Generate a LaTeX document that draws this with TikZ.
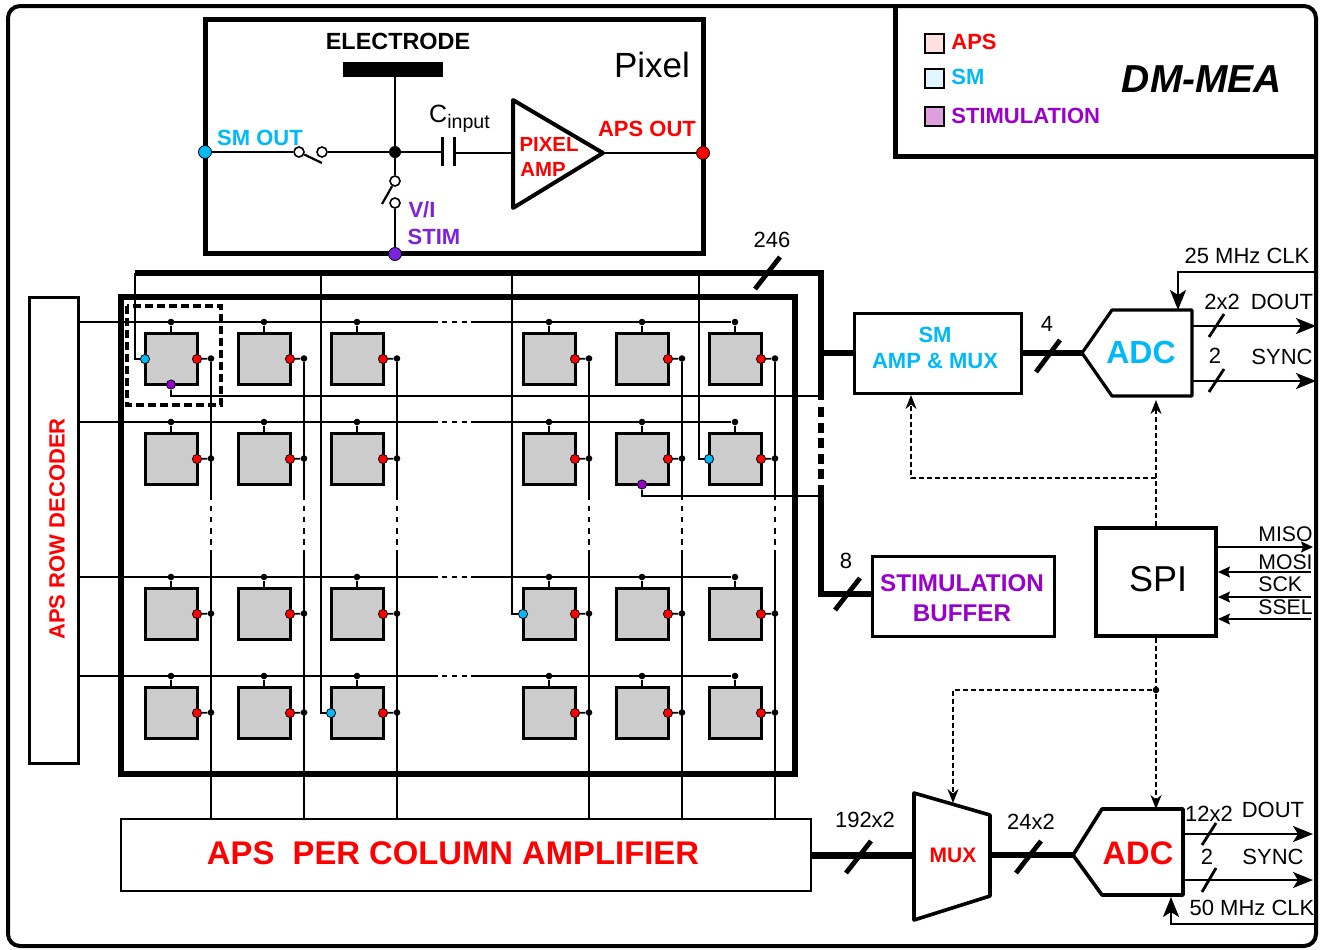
\documentclass[tikz,border=0pt]{standalone}
\usepackage{fontspec}
\setmainfont{Liberation Sans}
\usepackage{xcolor}
\usetikzlibrary{arrows.meta}
\usetikzlibrary{math}
\definecolor{smblue}{RGB}{0,185,250}
\definecolor{apsred}{RGB}{255,0,0}
\definecolor{stimpurple}{RGB}{153,0,204}
\definecolor{vipurple}{RGB}{125,35,220}
\definecolor{stimfill}{RGB}{221,160,221}
\tikzset{
block/.style={draw,line width=1.5pt,fill=white,inner sep=0pt,align=center},
cell/.style={draw,line width=1.5pt,fill=black!20,inner sep=0pt,outer sep=0pt,minimum width=26pt,minimum height=25.5pt},
wiredot/.style={circle,fill=black,inner sep=0pt,minimum size=3.3pt},
apsdot/.style={circle,draw,line width=0.4pt,fill=apsred,inner sep=0pt,minimum size=4.6pt},
smdot/.style={circle,draw,line width=0.4pt,fill=smblue,inner sep=0pt,minimum size=4.6pt},
stimdot/.style={circle,draw,line width=0.4pt,fill=stimpurple,inner sep=0pt,minimum size=4.6pt},
opendot/.style={circle,draw,line width=0.8pt,fill=white,inner sep=0pt,minimum size=5pt},
legendbox/.style={draw,line width=1pt,inner sep=0pt,minimum size=9.5pt},
wire/.style={line width=0.9pt},
bus/.style={line width=2.6pt},
slash/.style={line width=2.4pt},
sig/.style={line width=1.1pt,-{Stealth[length=10pt,width=8pt,inset=2.5pt]}},
sigthin/.style={line width=0.7pt,-{Stealth[length=6pt,width=5.5pt,inset=1pt]}},
ctrl/.style={line width=0.8pt,dash pattern=on 2.5pt off 1.5pt,-{Stealth[length=7pt,width=5.5pt]}},
lab/.style={font=\fontsize{11}{13}\selectfont,inner sep=0pt},
blab/.style={font=\fontsize{11}{13}\selectfont\bfseries,inner sep=0pt},
}
\begin{document}
\begin{tikzpicture}[x=0.5pt,y=-0.5pt]
\tikzmath{
\w=54;
\h=52;
\tapup=11;
\side=26;
\outx=13;
}
\useasboundingbox (0,0) rectangle (1328,949);

\draw[line width=2pt,rounded corners=6pt] (8,6) rectangle (1316,946);
\draw[line width=2.5pt] (895,6) |- (1316,156);

% legend
\node[legendbox,fill=red!12] (lega) at (934,43) {};
\node[legendbox,fill=cyan!12] (legb) at (934,78) {};
\node[legendbox,fill=stimfill] (legc) at (934,116) {};
\node[blab,text=apsred,anchor=west] (legatxt) at (951,42) {APS};
\node[blab,text=smblue,anchor=west] (legbtxt) at (951,77) {SM};
\node[blab,text=stimpurple,anchor=west] (legctxt) at (951,116) {STIMULATION};
\node[font=\fontsize{19.5}{19.5}\selectfont\bfseries\itshape,inner sep=0pt] (title) at (1202,79) {DM-MEA};

% pixel inset
\node[block,line width=2.5pt,minimum width=249pt,minimum height=117pt] (pixelbox) at (454,136) {};
\node[font=\fontsize{11.7}{11.7}\selectfont\bfseries,inner sep=0pt] (elabel) at (398,41) {ELECTRODE};
\node[fill=black,inner sep=0pt,minimum width=50pt,minimum height=7.5pt] (electrode) at (393,69.5) {};
\node[font=\fontsize{17.5}{17.5}\selectfont,inner sep=0pt] (pixlabel) at (652,65) {Pixel};
\node[smdot,minimum size=6.5pt] (smout) at (205,152) {};
\node[apsdot,minimum size=6.5pt] (apsout) at (703,153) {};
\node[stimdot,fill=vipurple,minimum size=6.5pt] (stimin) at (395,254) {};
\node[wiredot,minimum size=6pt] (jct) at (395,152) {};
\node[opendot] (swa) at (299,152) {};
\node[opendot] (swb) at (322,152) {};
\node[opendot] (swc) at (395,181) {};
\node[opendot] (swd) at (395,203) {};
\coordinate (bladea) at (322,163);
\coordinate (bladeb) at (382,204);
\coordinate (capl) at (442,152);
\coordinate (capr) at (454,153);
\coordinate (ampin) at (513,153);
\coordinate (ampout) at (603,153);
\draw[line width=1.1pt] (electrode.south -| jct) -- (jct);
\draw[line width=1.1pt] (smout) -- (swa);
\draw[line width=1.1pt] (swa) -- (bladea);
\draw[line width=1.1pt] (swb) -- (jct) -- (capl);
\draw[line width=1.1pt] (jct) -- (swc);
\draw[line width=1.1pt] (swc) -- (bladeb);
\draw[line width=1.1pt] (swd) -- (stimin);
\draw[line width=1.1pt] (capr) -- (ampin);
\draw[line width=1.1pt] (ampout) -- (apsout);
\draw[line width=1.5pt] (capl |- 0,137) -- (capl |- 0,166);
\draw[line width=1.5pt] (capr |- 0,137) -- (capr |- 0,166);
\draw[line width=2pt,line join=round] (513,100) -- (603,153) -- (513,208) -- cycle;
\node[blab,text=smblue] (smoutlab) at (260,138) {SM OUT};
\node[blab,text=apsred] (apsoutlab) at (647,129) {APS OUT};
\node[blab,text=apsred,font=\fontsize{10.2}{12.5}\selectfont\bfseries] (amplab) at (549,144) {PIXEL};
\node[blab,text=apsred,font=\fontsize{10.2}{12.5}\selectfont\bfseries] (amplabb) at (543,169) {AMP};
\node[inner sep=0pt,font=\fontsize{12.5}{12.5}\selectfont] (caplab) at (459.5,119) {C\raisebox{-0.45ex}{\fontsize{9.8}{9.8}\selectfont input}};
\node[blab,text=vipurple] (vilab) at (422,210) {V/I};
\node[blab,text=vipurple] (stimlab) at (434,237) {STIM};

% array
\node[block,line width=3pt,fill=none,minimum width=337pt,minimum height=238.5pt] (array) at (458,535.5) {};
\node[block,minimum width=24.5pt,minimum height=233pt] (rowdec) at (54,530.5) {};
\node[blab,text=apsred,rotate=90] (rowdeclab) at (57,529) {APS ROW DECODER};
\node[block,line width=1.3pt,minimum width=345pt,minimum height=36pt] (colamp) at (466,855) {};
\node[text=apsred,font=\fontsize{16.4}{16.4}\selectfont\bfseries,inner sep=0pt] (colamplab) at (453,853) {APS\ \ PER COLUMN AMPLIFIER};

\coordinate (bustl) at (135,273);
\coordinate (bustr) at (821,273);
\coordinate (busa) at (821,400);
\coordinate (busb) at (821,407);
\coordinate (busc) at (821,480);
\coordinate (busd) at (821,485);
\coordinate (stimbufin) at (872,594);
\coordinate (brkup) at (0,500);
\coordinate (brkdn) at (0,553);

\foreach \ry [count=\r] in {333,433,588,687} {
\foreach \cx [count=\c] in {144,237,330,522,615,708} {
\node[cell] (c\r\c) at (\cx+\w/2,\ry+\h/2) {};
\node[wiredot] (tap\r\c) at (\cx+\w/2,\ry-\tapup) {};
\node[wiredot] (out\r\c) at (\cx+\w+\outx,\ry+\side-0.5) {};
\draw[wire] (tap\r\c) -- (c\r\c.north);
\draw[wire] (c\r\c.east) -- (out\r\c);
\node[apsdot] (aps\r\c) at (c\r\c.east) {};
}
\coordinate (brkl\r) at (437.5,\ry-\tapup);
\coordinate (brkr\r) at (471,\ry-\tapup);
\draw[wire] (rowdec.east |- tap\r1) -- (brkl\r);
\draw[wire,dash pattern=on 2.5pt off 2.5pt,dash phase=2.75pt] (brkl\r) -- (brkr\r);
\draw[wire] (brkr\r) -- (tap\r6);
}

\foreach \c in {1,...,6} {
\draw[line width=1.1pt] (out1\c) -- (out1\c |- brkup);
\draw[line width=1.1pt,dash pattern=on 2.8pt off 2.8pt,dash phase=2.8pt] (out1\c |- brkup) -- (out1\c |- brkdn);
\draw[line width=1.1pt] (out1\c |- brkdn) -- (out1\c |- colamp.north);
}

\draw[bus] (bustl) -- (bustr) -- (busa);
\draw[bus,dash pattern=on 5pt off 2.8pt] (busb) -- (busc);
\draw[bus] (busd) |- (stimbufin);

\foreach \tapx/\rc in {135/11,321/43,512/34,699/26} {
\node[smdot] (sm\rc) at (c\rc.west) {};
\coordinate (smtap\rc) at (\tapx,273);
\draw[wire] (smtap\rc) |- (sm\rc);
}
\foreach \rc/\biny in {11/396,25/496} {
\node[stimdot] (st\rc) at (c\rc.south) {};
\coordinate (stimbus\rc) at (821,\biny);
\draw[wire] (st\rc) |- (stimbus\rc);
}
\draw[line width=1.6pt,dash pattern=on 4pt off 2pt] (127,306) rectangle (221,405);

% right hand blocks
\node[block,minimum width=83.5pt,minimum height=40pt] (smamp) at (938,353) {};
\node[blab,text=smblue] (smamplab) at (935,335) {SM};
\node[blab,text=smblue] (smamplabb) at (935,361) {AMP \& MUX};
\coordinate (adcsmtip) at (1082,353);
\draw[line width=1.6pt,line join=round] (adcsmtip) -- ++(30,-43) -- ++(80,0) -- ++(0,86) -- ++(-80,0) -- cycle;
\node[text=smblue,font=\fontsize{16}{16}\selectfont\bfseries,inner sep=0pt] (adcsmlab) at (1141,352) {ADC};
\draw[bus] (smamp.west) -- (smamp.west -| bustr);
\draw[bus] (smamp.east) -- (adcsmtip);

\node[block,minimum width=91pt,minimum height=40pt] (stimbuf) at (963.5,596) {};
\node[text=stimpurple,font=\fontsize{12.1}{12.1}\selectfont\bfseries,inner sep=0pt] (stimbuflab) at (962,583) {STIMULATION};
\node[text=stimpurple,font=\fontsize{12.1}{12.1}\selectfont\bfseries,inner sep=0pt] (stimbuflabb) at (962,613) {BUFFER};

\node[block,line width=2pt,minimum width=60pt,minimum height=54pt] (spi) at (1156,581.5) {};
\node[font=\fontsize{18}{18}\selectfont,inner sep=0pt] (spilab) at (1158,579) {SPI};

\coordinate (muxtl) at (914,793);
\coordinate (muxbl) at (914,920);
\coordinate (muxtr) at (990,815);
\coordinate (muxbr) at (990,896);
\draw[line width=1.8pt,line join=round] (muxtl) -- (muxtr) -- (muxbr) -- (muxbl) -- cycle;
\node[blab,text=apsred,font=\fontsize{10.5}{12}\selectfont\bfseries] (muxlab) at (953,855) {MUX};
\coordinate (adcapstip) at (1073,855);
\draw[line width=1.8pt,line join=round] (adcapstip) -- ++(29,-46) -- ++(81,0) -- ++(0,86) -- ++(-81,0) -- cycle;
\node[text=apsred,font=\fontsize{16.3}{16.3}\selectfont\bfseries,inner sep=0pt] (adcapslab) at (1138,853) {ADC};
\draw[line width=3.5pt] (colamp.east) -- (colamp.east -| muxtl);
\draw[bus] (colamp.east -| muxtr) -- (adcapstip);

% bus widths
\draw[slash] (755,289) -- (780,257);
\node[lab] (n246) at (772,240) {246};
\draw[slash] (1036,372) -- (1060,340);
\node[lab] (n4) at (1047,324) {4};
\draw[slash] (835,610) -- (860,578);
\node[lab] (n8) at (846,561) {8};
\draw[slash] (846,873) -- (871,841);
\node[lab] (n192) at (865,820) {192x2};
\draw[slash] (1016,873) -- (1041,841);
\node[lab] (n24) at (1031,822) {24x2};

% signals top adc
\coordinate (clktop) at (1316,272);
\coordinate (clktopin) at (1178,310);
\coordinate (doutaa) at (1192,326);
\coordinate (doutab) at (1316,326);
\coordinate (syncaa) at (1192,381);
\coordinate (syncab) at (1316,381);
\draw[sig] (clktop) -| (clktopin);
\draw[sig] (doutaa) -- (doutab);
\draw[sig] (syncaa) -- (syncab);
\draw[line width=1.4pt] (1209,337) -- (1224,314);
\draw[line width=1.4pt] (1209,392) -- (1224,369);
\node[lab] (clka) at (1247,256) {25 MHz CLK};
\node[lab] (w22) at (1222,302) {2x2};
\node[lab] (douta) at (1282,302) {DOUT};
\node[lab] (w2a) at (1215,356) {2};
\node[lab] (synca) at (1282,357) {SYNC};

% signals bottom adc
\coordinate (clkbot) at (1314,924);
\coordinate (clkbotin) at (1171,897);
\coordinate (doutba) at (1183,834);
\coordinate (doutbb) at (1313,834);
\coordinate (syncba) at (1183,880);
\coordinate (syncbb) at (1313,880);
\draw[sig] (clkbot) -| (clkbotin);
\draw[sig] (doutba) -- (doutbb);
\draw[sig] (syncba) -- (syncbb);
\draw[line width=1.4pt] (1202,845) -- (1216,823);
\draw[line width=1.4pt] (1202,892) -- (1216,868);
\node[lab] (clkb) at (1252,908) {50 MHz CLK};
\node[lab] (w12) at (1209,814) {12x2};
\node[lab] (doutb) at (1273,810) {DOUT};
\node[lab] (w2b) at (1207,857) {2};
\node[lab] (syncb) at (1273,857) {SYNC};

% spi lines
\coordinate (misoa) at (1313,547);
\coordinate (mosia) at (1311,572);
\coordinate (scka) at (1311,597);
\coordinate (ssela) at (1311,619);
\draw[sigthin] (spi.east |- misoa) -- (misoa);
\draw[sigthin] (mosia) -- (spi.east |- mosia);
\draw[sigthin] (scka) -- (spi.east |- scka);
\draw[sigthin] (ssela) -- (spi.east |- ssela);
\node[lab,font=\fontsize{10.6}{13}\selectfont,anchor=west] (miso) at (1258,534) {MISO};
\node[lab,font=\fontsize{10.6}{13}\selectfont,anchor=west] (mosi) at (1258,562) {MOSI};
\node[lab,font=\fontsize{10.6}{13}\selectfont,anchor=west] (sck) at (1258,584) {SCK};
\node[lab,font=\fontsize{10.6}{13}\selectfont,anchor=west] (ssel) at (1258,607) {SSEL};

% spi control
\coordinate (ctrlsm) at (1156,478);
\coordinate (ctrladc) at (1156,400);
\coordinate (ctrlamp) at (911,395);
\coordinate (ctrladcb) at (1156,809);
\coordinate (ctrlmux) at (953,803);
\node[wiredot] (ctrld) at (1156,690) {};
\draw[ctrl] (spi.north) -- (ctrladc);
\draw[ctrl] (ctrlsm) -| (ctrlamp);
\draw[ctrl] (spi.south) -- (ctrladcb);
\draw[ctrl] (ctrld) -| (ctrlmux);
\end{tikzpicture}
\end{document}
